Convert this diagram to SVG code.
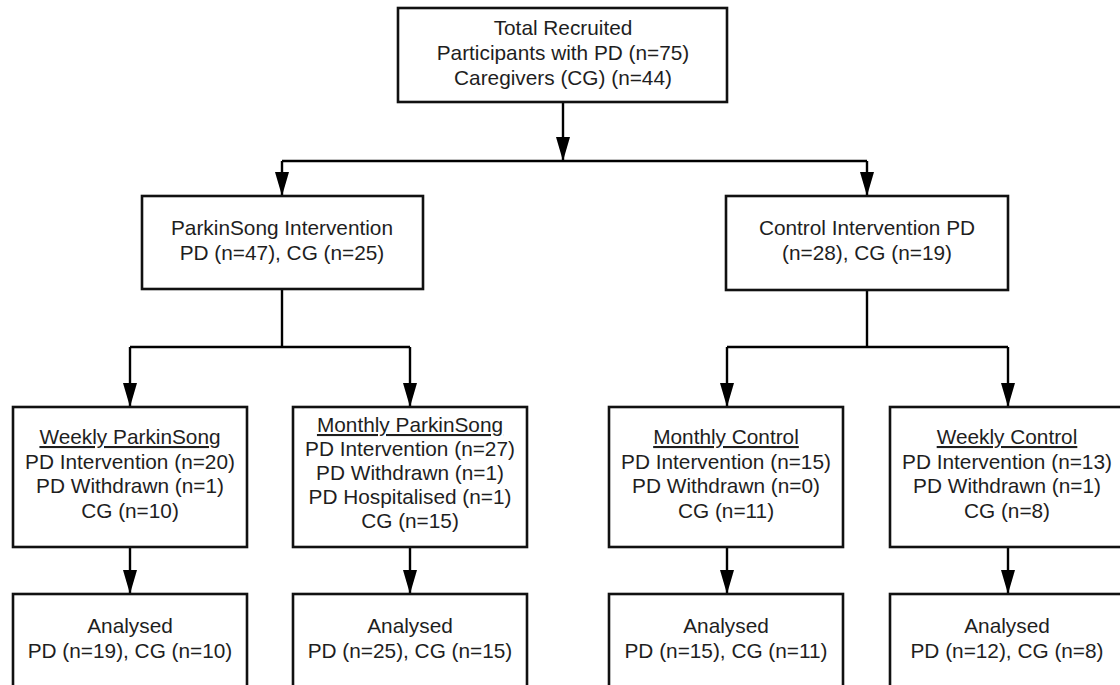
<svg xmlns="http://www.w3.org/2000/svg" width="1120" height="685" viewBox="0 0 1120 685">
<defs>
<marker id="arr" markerUnits="userSpaceOnUse" viewBox="0 0 24 14" refX="24" refY="7" markerWidth="24" markerHeight="14" orient="auto">
<path d="M0,0 L24,7 L0,14 z" fill="#000"/>
</marker>
<style>
rect.box { fill: #fff; stroke: #111; stroke-width: 2.6; }
text { font-family: "Liberation Sans", Arial, sans-serif; font-size: 20.8px; fill: #1e1e1e; text-anchor: middle; }
text.u { text-decoration: underline; }
.c { fill: none; stroke: #000; stroke-width: 2.4; }
.a { fill: none; stroke: #000; stroke-width: 2.4; marker-end: url(#arr); }
</style>
</defs>
<rect width="1120" height="685" fill="#fff"/>

<g id="connectors">
<path class="a" d="M563,102 V161"/>
<path class="c" d="M282,161 H867"/>
<path class="a" d="M282,161 V196"/>
<path class="a" d="M867,161 V196"/>
<path class="c" d="M282,289 V347"/>
<path class="c" d="M130,347 H410"/>
<path class="a" d="M130,347 V407"/>
<path class="a" d="M410,347 V407"/>
<path class="c" d="M867,290 V347"/>
<path class="c" d="M727,347 H1008"/>
<path class="a" d="M727,347 V407"/>
<path class="a" d="M1008,347 V407"/>
<path class="a" d="M130,547 V594"/>
<path class="a" d="M410,547 V594"/>
<path class="a" d="M727,547 V594"/>
<path class="a" d="M1008,547 V594"/>
</g>

<g id="total">
<rect class="box" x="398" y="8" width="329" height="94"/>
<text x="563" y="35">Total Recruited</text>
<text x="563" y="60">Participants with PD (n=75)</text>
<text x="563" y="85">Caregivers (CG) (n=44)</text>
</g>

<g id="parkinsong">
<rect class="box" x="142" y="196" width="281" height="93"/>
<text x="282" y="235">ParkinSong Intervention</text>
<text x="282" y="260">PD (n=47), CG (n=25)</text>
</g>

<g id="control">
<rect class="box" x="726" y="196" width="282" height="94"/>
<text x="867" y="235">Control Intervention PD</text>
<text x="867" y="260">(n=28), CG (n=19)</text>
</g>

<g id="weekly-parkinsong">
<rect class="box" x="13" y="407" width="234" height="140"/>
<text class="u" x="130" y="444">Weekly ParkinSong</text>
<text x="130" y="468.5">PD Intervention (n=20)</text>
<text x="130" y="493">PD Withdrawn (n=1)</text>
<text x="130" y="517.5">CG (n=10)</text>
</g>

<g id="monthly-parkinsong">
<rect class="box" x="293" y="407" width="234" height="140"/>
<text class="u" x="410" y="432">Monthly ParkinSong</text>
<text x="410" y="456">PD Intervention (n=27)</text>
<text x="410" y="480">PD Withdrawn (n=1)</text>
<text x="410" y="504">PD Hospitalised (n=1)</text>
<text x="410" y="528">CG (n=15)</text>
</g>

<g id="monthly-control">
<rect class="box" x="609" y="407" width="234" height="140"/>
<text class="u" x="726" y="444">Monthly Control</text>
<text x="726" y="468.5">PD Intervention (n=15)</text>
<text x="726" y="493">PD Withdrawn (n=0)</text>
<text x="726" y="517.5">CG (n=11)</text>
</g>

<g id="weekly-control">
<rect class="box" x="890" y="407" width="236" height="140"/>
<text class="u" x="1007" y="444">Weekly Control</text>
<text x="1007" y="468.5">PD Intervention (n=13)</text>
<text x="1007" y="493">PD Withdrawn (n=1)</text>
<text x="1007" y="517.5">CG (n=8)</text>
</g>

<g id="analysed-weekly-parkinsong">
<rect class="box" x="13" y="594" width="234" height="110"/>
<text x="130" y="633">Analysed</text>
<text x="130" y="658">PD (n=19), CG (n=10)</text>
</g>

<g id="analysed-monthly-parkinsong">
<rect class="box" x="293" y="594" width="234" height="110"/>
<text x="410" y="633">Analysed</text>
<text x="410" y="658">PD (n=25), CG (n=15)</text>
</g>

<g id="analysed-monthly-control">
<rect class="box" x="609" y="594" width="234" height="110"/>
<text x="726" y="633">Analysed</text>
<text x="726" y="658">PD (n=15), CG (n=11)</text>
</g>

<g id="analysed-weekly-control">
<rect class="box" x="890" y="594" width="236" height="110"/>
<text x="1007" y="633">Analysed</text>
<text x="1007" y="658">PD (n=12), CG (n=8)</text>
</g>
</svg>
